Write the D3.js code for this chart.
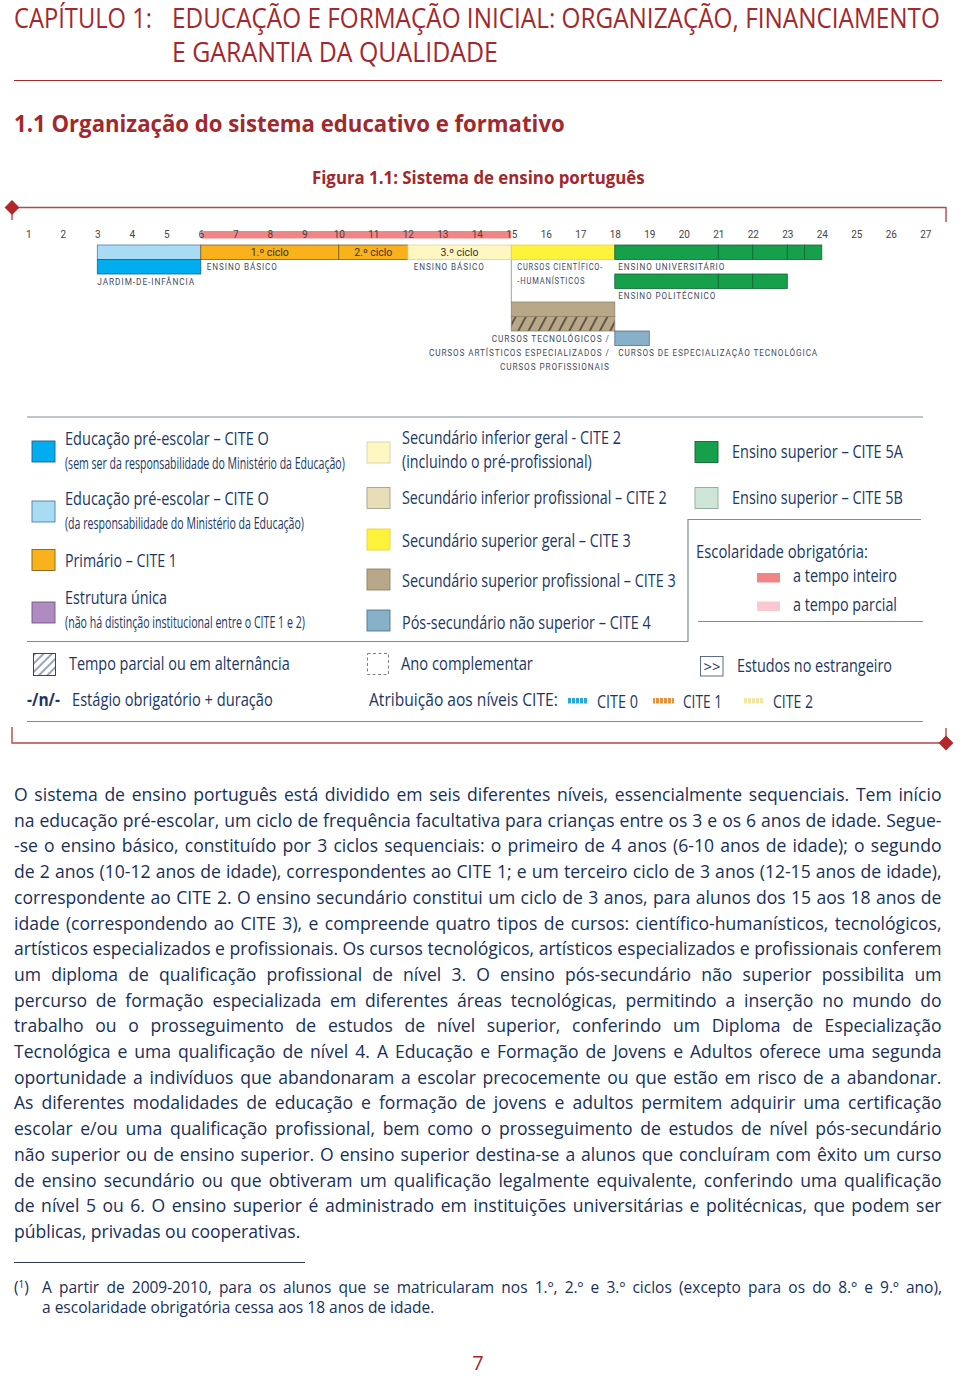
<!DOCTYPE html>
<html><head><meta charset="utf-8">
<script src="https://cdn.jsdelivr.net/npm/d3@7/dist/d3.min.js"></script>
<style>body{margin:0;background:#fff}svg{display:block}</style>
</head><body>
<svg id="c" width="960" height="1377"></svg>
<script>
// ---------------- DATA ----------------
const ages = [1,2,3,4,5,6,7,8,9,10,11,12,13,14,15,16,17,18,19,20,21,22,23,24,25,26,27];
const compulsoryFull = [{from:6, to:15}];
const programmes = [
  {lane:"L1", from:3,  to:6,    level:"pre_me"},
  {lane:"L1", from:6,  to:10,   level:"cite1", label:"1.º ciclo"},
  {lane:"L1", from:10, to:12,   level:"cite1", label:"2.º ciclo"},
  {lane:"L1", from:12, to:15,   level:"cite2", label:"3.º ciclo"},
  {lane:"L1", from:15, to:18,   level:"cite3"},
  {lane:"L1", from:18, to:21,   level:"cite5a"},
  {lane:"L1", from:21, to:22,   level:"cite5a"},
  {lane:"L1", from:22, to:23,   level:"cite5a"},
  {lane:"L1", from:23, to:23.5, level:"cite5a"},
  {lane:"L1", from:23.5, to:24, level:"cite5a"},
  {lane:"L2", from:3,  to:6,    level:"pre_other"},
  {lane:"L3", from:18, to:21,   level:"cite5a"},
  {lane:"L3", from:21, to:22,   level:"cite5a"},
  {lane:"L3", from:22, to:23,   level:"cite5a"},
  {lane:"L4", from:15, to:18,   level:"cite3p"},
  {lane:"L5", from:15, to:18,   level:"cite3p", hatch:true},
  {lane:"L6", from:18, to:19,   level:"cite4"}
];
const programmeNames = [
  {age:6,  row:"T1", anchor:"start", lines:["ENSINO BÁSICO"]},
  {age:12, row:"T1", anchor:"start", lines:["ENSINO BÁSICO"]},
  {age:3,  row:"T2", anchor:"start", lines:["JARDIM-DE-INFÂNCIA"]},
  {age:15, row:"T1", anchor:"start", lines:["CURSOS CIENTÍFICO-","-HUMANÍSTICOS"]},
  {age:18, row:"T1", anchor:"start", lines:["ENSINO UNIVERSITÁRIO"]},
  {age:18, row:"T3", anchor:"start", lines:["ENSINO POLITÉCNICO"]},
  {age:18, row:"T4", anchor:"end",   lines:["CURSOS TECNOLÓGICOS /","CURSOS ARTÍSTICOS ESPECIALIZADOS /","CURSOS PROFISSIONAIS"]},
  {age:18, row:"T5", anchor:"start", lines:["CURSOS DE ESPECIALIZAÇÃO TECNOLÓGICA"]}
];
const legendLeft = [
  {level:"pre_other", label:"Educação pré-escolar – CITE O", sub:"(sem ser da responsabilidade do Ministério da Educação)"},
  {level:"pre_me",    label:"Educação pré-escolar – CITE O", sub:"(da responsabilidade do Ministério da Educação)"},
  {level:"cite1",     label:"Primário – CITE 1"},
  {level:"single",    label:"Estrutura única", sub:"(não há distinção institucional entre o CITE 1 e 2)"}
];
const legendMiddle = [
  {level:"cite2",  label:"Secundário inferior geral - CITE 2", sub:"(incluindo o pré-profissional)"},
  {level:"cite2p", label:"Secundário inferior profissional – CITE 2"},
  {level:"cite3",  label:"Secundário superior geral – CITE 3"},
  {level:"cite3p", label:"Secundário superior profissional – CITE 3"},
  {level:"cite4",  label:"Pós-secundário não superior – CITE 4"}
];
const legendRight = [
  {level:"cite5a", label:"Ensino superior – CITE 5A"},
  {level:"cite5b", label:"Ensino superior – CITE 5B"}
];
const compulsoryLegend = ["a tempo inteiro","a tempo parcial"];
const citeMarks = ["CITE 0","CITE 1","CITE 2"];
const paragraph = [
"O sistema de ensino português está dividido em seis diferentes níveis, essencialmente sequenciais. Tem início",
"na educação pré-escolar, um ciclo de frequência facultativa para crianças entre os 3 e os 6 anos de idade. Segue-",
"-se o ensino básico, constituído por 3 ciclos sequenciais: o primeiro de 4 anos (6-10 anos de idade); o segundo",
"de 2 anos (10-12 anos de idade), correspondentes ao CITE 1; e um terceiro ciclo de 3 anos (12-15 anos de idade),",
"correspondente ao CITE 2. O ensino secundário constitui um ciclo de 3 anos, para alunos dos 15 aos 18 anos de",
"idade (correspondendo ao CITE 3), e compreende quatro tipos de cursos: científico-humanísticos, tecnológicos,",
"artísticos especializados e profissionais. Os cursos tecnológicos, artísticos especializados e profissionais conferem",
"um diploma de qualificação profissional de nível 3. O ensino pós-secundário não superior possibilita um",
"percurso de formação especializada em diferentes áreas tecnológicas, permitindo a inserção no mundo do",
"trabalho ou o prosseguimento de estudos de nível superior, conferindo um Diploma de Especialização",
"Tecnológica e uma qualificação de nível 4. A Educação e Formação de Jovens e Adultos oferece uma segunda",
"oportunidade a indivíduos que abandonaram a escolar precocemente ou que estão em risco de a abandonar.",
"As diferentes modalidades de educação e formação de jovens e adultos permitem adquirir uma certificação",
"escolar e/ou uma qualificação profissional, bem como o prosseguimento de estudos de nível pós-secundário",
"não superior ou de ensino superior. O ensino superior destina-se a alunos que concluíram com êxito um curso",
"de ensino secundário ou que obtiveram um qualificação legalmente equivalente, conferindo uma qualificação",
"de nível 5 ou 6. O ensino superior é administrado em instituições universitárias e politécnicas, que podem ser",
"públicas, privadas ou cooperativas."
];
const footnote = [
"A partir de 2009-2010, para os alunos que se matricularam nos 1.º, 2.º e 3.º ciclos (excepto para os do 8.º e 9.º ano),",
"a escolaridade obrigatória cessa aos 18 anos de idade."
];

// ---------------- STYLES ----------------
const RED = "#a3282b", FRAME = "#b5474b", NAVY = "#1b3764", TXT = "#17305a", LINE = "#7f8d9b", CH = "#3e4c5e";
const FONT = "'Open Sans','Noto Sans',sans-serif";
const NARROW = "'Liberation Sans Narrow','Roboto','Open Sans',sans-serif";
const fill = d3.scaleOrdinal()
  .domain(["pre_other","pre_me","cite1","single","cite2","cite2p","cite3","cite3p","cite4","cite5a","cite5b"])
  .range(["#00aeef","#a8dcf5","#f9b21b","#b08bc2","#fff7c2","#e7ddb6","#fff23a","#b9a888","#88b0c8","#17a04b","#cde6d7"]);
const stroke = d3.scaleOrdinal()
  .domain(["pre_other","pre_me","cite1","single","cite2","cite2p","cite3","cite3p","cite4","cite5a","cite5b"])
  .range(["#1d5f8c","#4e7ea6","#7e6022","#6b5c7c","#d8d2a8","#a89f86","#e2d640","#8f8068","#4f7690","#0f6630","#8fa89a"]);
const captionWidth = {
  "ENSINO BÁSICO":71, "JARDIM-DE-INFÂNCIA":98, "CURSOS CIENTÍFICO-":86, "-HUMANÍSTICOS":68,
  "ENSINO UNIVERSITÁRIO":107, "ENSINO POLITÉCNICO":98, "CURSOS TECNOLÓGICOS /":118,
  "CURSOS ARTÍSTICOS ESPECIALIZADOS /":181, "CURSOS PROFISSIONAIS":110,
  "CURSOS DE ESPECIALIZAÇÃO TECNOLÓGICA":200
};

const svg = d3.select("#c");
svg.append("rect").attr("width",960).attr("height",1377).attr("fill","#fff");
const defs = svg.append("defs");
function hatchPattern(id, spacing, angle, bg, col, sw){
  const p = defs.append("pattern").attr("id",id).attr("patternUnits","userSpaceOnUse")
    .attr("width",spacing).attr("height",spacing).attr("patternTransform",`rotate(${angle})`);
  if (bg) p.append("rect").attr("width",spacing).attr("height",spacing).attr("fill",bg);
  p.append("line").attr("x1",1).attr("y1",0).attr("x2",1).attr("y2",spacing).attr("stroke",col).attr("stroke-width",sw);
}
hatchPattern("hatchTan", 9, 28, fill("cite3p"), "#2b2b2b", 1.3);
hatchPattern("hatchLeg", 6, 45, "#fff", NAVY, 0.9);
function stripePattern(id, bg){
  const p = defs.append("pattern").attr("id",id).attr("patternUnits","userSpaceOnUse").attr("width",4).attr("height",4);
  p.append("rect").attr("width",4).attr("height",4).attr("fill",bg);
  p.append("rect").attr("x",3).attr("width",1).attr("height",4).attr("fill","#fff");
}
stripePattern("st0","#2aa6e0"); stripePattern("st1","#e8933a"); stripePattern("st2","#efe7a2");

// text squeezed horizontally to a target width via a transform
function text(g, x, y, s, o={}){
  const gg = g.append("g").attr("transform",`translate(${x},${y})`);
  const t = gg.append("text").attr("x",0).attr("y",0).text(s)
    .attr("font-family", o.family || FONT).attr("font-size", o.size || 16)
    .attr("fill", o.color || NAVY).attr("text-anchor", o.anchor || "start");
  if (o.weight) t.attr("font-weight", o.weight);
  if (o.ls) t.attr("letter-spacing", o.ls);
  if (o.w){
    const len = t.node().getComputedTextLength();
    gg.attr("transform",`translate(${x},${y}) scale(${o.w/len},1)`);
  }
  return t;
}

// ---------------- HEADER ----------------
text(svg, 14, 28, "CAPÍTULO 1:", {size:27, color:RED, w:138});
text(svg, 172, 28, "EDUCAÇÃO E FORMAÇÃO INICIAL: ORGANIZAÇÃO, FINANCIAMENTO", {size:27, color:RED, w:768});
text(svg, 172, 62, "E GARANTIA DA QUALIDADE", {size:27, color:RED, w:326});
svg.append("line").attr("x1",14).attr("x2",942).attr("y1",80.5).attr("y2",80.5).attr("stroke",RED).attr("stroke-width",1);
text(svg, 14, 132, "1.1  Organização do sistema educativo e formativo", {size:23, weight:700, color:RED, w:551});
text(svg, 312, 184, "Figura 1.1:  Sistema de ensino português", {size:17, weight:700, color:RED, w:333});

// ---------------- FRAME ----------------
const frame = svg.append("g").attr("stroke",FRAME).attr("stroke-width",1.4).attr("fill","none");
frame.append("path").attr("d","M12,207.5 H946 V222");
frame.append("line").attr("x1",12).attr("x2",12).attr("y1",207).attr("y2",220);
frame.append("path").attr("d","M12,727 V743 H946");
frame.append("line").attr("x1",946).attr("x2",946).attr("y1",728).attr("y2",743);
svg.append("path").attr("d",d3.symbol(d3.symbolSquare, 110)()).attr("transform","translate(12,207.5) rotate(45)").attr("fill","#b3262a");
svg.append("path").attr("d",d3.symbol(d3.symbolSquare, 110)()).attr("transform","translate(946,743) rotate(45)").attr("fill","#b3262a");

// ---------------- DIAGRAM ----------------
const x = d3.scaleLinear().domain([1,27]).range([28.3, 925.3]);
const laneY = d3.scaleOrdinal().domain(["L1","L2","L3","L4","L5","L6"]).range([245,259.5,274,302,316.5,331]);
const laneH = 14.5;
const rowY = d3.scaleOrdinal().domain(["T1","T2","T3","T4","T5"]).range([270,284.5,299,341.5,356]);
const chart = svg.append("g");

chart.selectAll("rect.comp").data(compulsoryFull).join("rect").attr("class","comp")
  .attr("x", d=>x(d.from)).attr("width", d=>x(d.to)-x(d.from)).attr("y",231).attr("height",7.5).attr("fill","#f08585");

const axis = d3.axisBottom(x).tickValues(ages).tickSize(0).tickPadding(3).tickFormat(d3.format("d"));
const ag = chart.append("g").attr("transform","translate(0,227.5)").call(axis);
ag.select(".domain").remove();
ag.selectAll("text").attr("font-family",NARROW).attr("font-size",10).attr("fill","#444");

chart.append("line").attr("x1",x(15)).attr("x2",x(15)).attr("y1",laneY("L2")).attr("y2",laneY("L4"))
  .attr("stroke","#a0a0a0").attr("stroke-width",1);

chart.selectAll("rect.prog").data(programmes).join("rect").attr("class","prog")
  .attr("x", d=>x(d.from)).attr("y", d=>laneY(d.lane))
  .attr("width", d=>x(d.to)-x(d.from)).attr("height", laneH)
  .attr("fill", d=> d.hatch ? "url(#hatchTan)" : fill(d.level))
  .attr("stroke", d=>stroke(d.level)).attr("stroke-width",0.8);

chart.selectAll("text.cyc").data(programmes.filter(d=>d.label)).join("text").attr("class","cyc")
  .attr("x", d=>(x(d.from)+x(d.to))/2).attr("y", d=>laneY(d.lane)+10.8)
  .attr("text-anchor","middle").attr("font-family",NARROW).attr("font-size",10.5).attr("fill","#333")
  .text(d=>d.label);

programmeNames.forEach(p=>{
  const dx = p.anchor==="end" ? -5 : (p.age===3 ? 0 : (p.age===18 ? 3.5 : 6));
  p.lines.forEach((s,i)=>{
    text(chart, x(p.age)+dx, rowY(p.row)+i*14.2, s,
      {size:9.8, family:NARROW, ls:1.1, color:CH, anchor:p.anchor, w:captionWidth[s]});
  });
});

// ---------------- LEGEND ----------------
const leg = svg.append("g");
const ls = leg.append("g").attr("stroke",LINE).attr("stroke-width",1.2).attr("fill","none");
ls.append("line").attr("x1",27).attr("x2",923).attr("y1",417).attr("y2",417);
ls.append("path").attr("d","M27,641.5 H688 V519.5 H921");
ls.append("line").attr("x1",698).attr("x2",923).attr("y1",621.5).attr("y2",621.5);
ls.append("line").attr("x1",27).attr("x2",923).attr("y1",721.5).attr("y2",721.5);

function swatch(xx, yy, level, w=23, h=21){
  leg.append("rect").attr("x",xx).attr("y",yy).attr("width",w).attr("height",h)
    .attr("fill",fill(level)).attr("stroke",stroke(level)).attr("stroke-width",0.9);
}
const leftRows = [
  {sy:441, b1:444.5, b2:468.5, w1:204, w2:280},
  {sy:501, b1:505,   b2:529,   w1:204, w2:239},
  {sy:549.5, b1:566.5, w1:112},
  {sy:602, b1:604,   b2:628,   w1:102, w2:240}
];
legendLeft.forEach((d,i)=>{
  const r = leftRows[i];
  swatch(32, r.sy, d.level);
  text(leg, 65, r.b1, d.label, {size:17.5, w:r.w1});
  if (d.sub) text(leg, 65, r.b2, d.sub, {size:16.5, w:r.w2});
});
const midRows = [
  {sy:442, b1:443.5, b2:467.5, w1:219, w2:190},
  {sy:487.5, b1:503.5, w1:265},
  {sy:529, b1:546.5, w1:229},
  {sy:569, b1:586.5, w1:274},
  {sy:610, b1:629, w1:249}
];
legendMiddle.forEach((d,i)=>{
  const r = midRows[i];
  swatch(367, r.sy, d.level);
  text(leg, 402, r.b1, d.label, {size:17.5, w:r.w1});
  if (d.sub) text(leg, 402, r.b2, d.sub, {size:17.5, w:r.w2});
});
const rightRows = [{sy:441.5, b1:457.5},{sy:487.5, b1:503.5}];
legendRight.forEach((d,i)=>{
  const r = rightRows[i];
  swatch(695, r.sy, d.level);
  text(leg, 732, r.b1, d.label, {size:17.5, w:171});
});
text(leg, 696, 558, "Escolaridade obrigatória:", {size:17.5, w:172});
const compCol = ["#f08585","#f9c8d0"];
compulsoryLegend.forEach((s,i)=>{
  const yy = [573,601.5][i];
  leg.append("rect").attr("x",757).attr("y",yy).attr("width",23).attr("height",9.5).attr("fill",compCol[i]);
  text(leg, 793, [582,610.5][i], s, {size:17.5, w:104});
});

leg.append("rect").attr("x",33.5).attr("y",653.5).attr("width",22).attr("height",22)
  .attr("fill","url(#hatchLeg)").attr("stroke",NAVY).attr("stroke-width",0.9);
text(leg, 69, 670, "Tempo parcial ou em alternância", {size:17.5, w:221});
leg.append("rect").attr("x",367.5).attr("y",653.5).attr("width",21).attr("height",21)
  .attr("fill","none").attr("stroke","#6a7480").attr("stroke-width",0.9).attr("stroke-dasharray","3,2.5");
text(leg, 401, 670, "Ano complementar", {size:17.5, w:132});
leg.append("rect").attr("x",700.5).attr("y",656.5).attr("width",22.5).attr("height",19.5)
  .attr("fill","#fff").attr("stroke","#4a5e78").attr("stroke-width",0.9);
text(leg, 703.5, 672, ">>", {size:15, w:17});
text(leg, 737, 671.5, "Estudos no estrangeiro", {size:17.5, w:155});
text(leg, 27, 705.5, "-/n/-", {size:17.5, weight:700, w:33});
text(leg, 72, 705.5, "Estágio obrigatório + duração", {size:17.5, w:201});
text(leg, 369, 705.5, "Atribuição aos níveis CITE:", {size:17.5, w:189});
const citeX = [567, 653, 743], citeTX = [597, 683, 773], citeW = [41,39,40];
citeMarks.forEach((s,i)=>{
  leg.append("rect").attr("x",citeX[i]).attr("y",698).attr("width",21).attr("height",5.5).attr("fill",`url(#st${i})`);
  text(leg, citeTX[i], 707.5, s, {size:17.5, w:citeW[i]});
});

// ---------------- PARAGRAPH ----------------
function justify(lines, x0, width, y0, lh, size, lastIndex){
  const g = svg.append("g");
  const nodes = lines.map((s,i)=>{
    const gg = g.append("g").attr("transform",`translate(${x0},${y0+i*lh})`);
    const t = gg.append("text").attr("x",0).attr("y",0).text(s)
      .attr("font-family",FONT).attr("font-size",size).attr("fill",TXT);
    return {gg, t, s, w:t.node().getComputedTextLength(), last: i===lastIndex};
  });
  const full = nodes.filter(n=>!n.last);
  const sc = d3.min(full, n=> width/n.w);
  nodes.forEach(n=>{
    const k = Math.min(sc, 1.0);
    n.gg.attr("transform", n.gg.attr("transform")+` scale(${k},1)`);
    if (!n.last){
      const spaces = (n.s.match(/ /g)||[]).length;
      const extra = (width/k - n.w)/Math.max(spaces,1);
      n.t.attr("word-spacing", extra);
    }
  });
}
justify(paragraph, 14, 928, 801, 25.7, 18.6, paragraph.length-1);

svg.append("line").attr("x1",14).attr("x2",305).attr("y1",1262.5).attr("y2",1262.5).attr("stroke","#2a3550").attr("stroke-width",1);
const fn = svg.append("text").attr("x",14).attr("y",1293).attr("font-family",FONT).attr("font-size",15.5).attr("fill",TXT).text("(");
fn.append("tspan").attr("dy",-5).attr("font-size",10).text("1");
fn.append("tspan").attr("dy",5).text(")");
justify(footnote, 42, 900, 1293, 20, 15.5, 1);

svg.append("text").attr("x",478).attr("y",1370).attr("text-anchor","middle")
  .attr("font-family",FONT).attr("font-size",20).attr("fill",RED).text("7");
</script>
</body></html>
